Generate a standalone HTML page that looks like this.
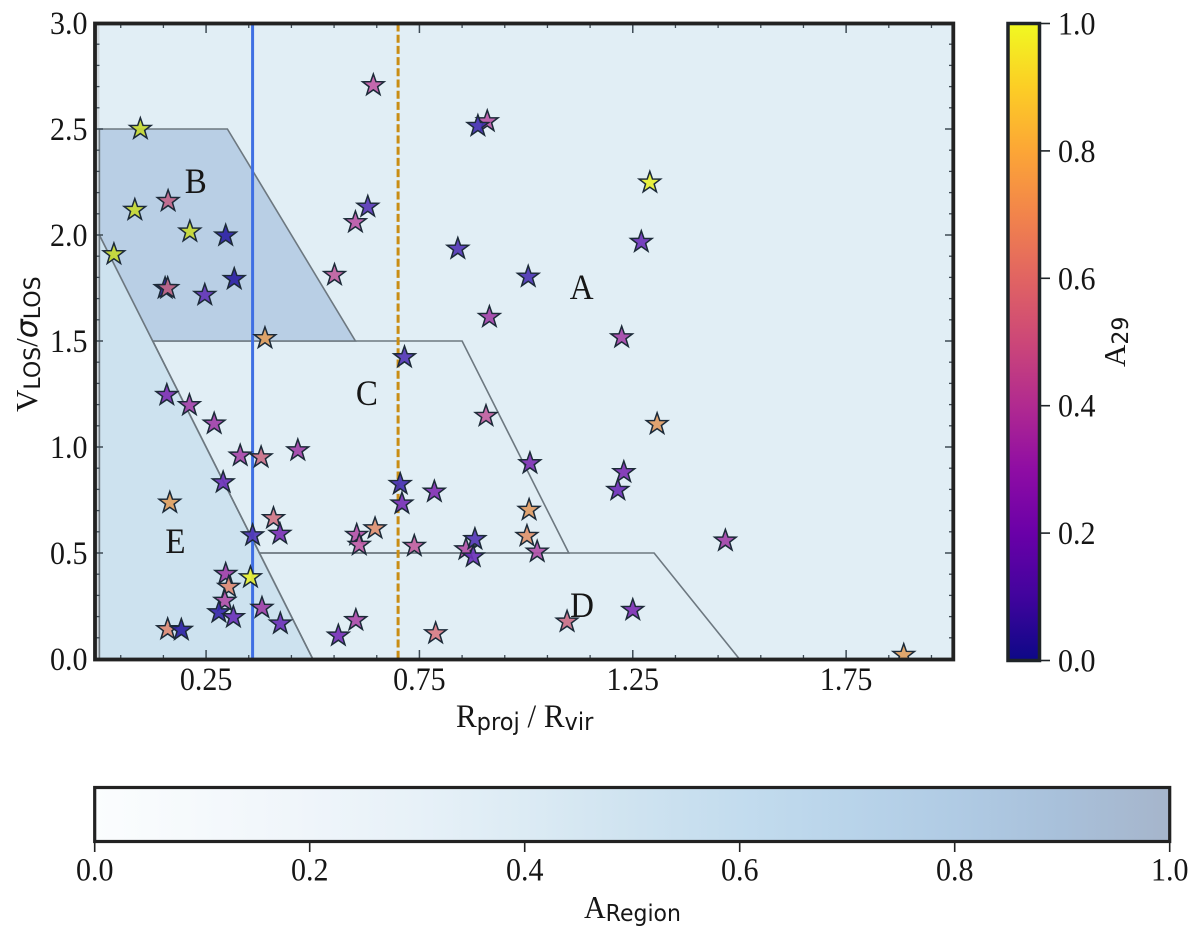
<!DOCTYPE html>
<html lang="en">
<head>
<meta charset="utf-8">
<title>Phase-space diagram</title>
<style>
html,body{margin:0;padding:0;background:#fff;width:1200px;height:940px;overflow:hidden}
svg{display:block}
text{font-family:"Liberation Serif",serif;fill:#161616}
.sub{font-family:"DejaVu Sans",sans-serif}
</style>
</head>
<body>
<svg id="fig" xmlns="http://www.w3.org/2000/svg" width="1200" height="940" viewBox="0 0 1200 940">
  <defs>
    <clipPath id="plot-clip"><rect x="95" y="23.5" width="858" height="636"/></clipPath>
    <linearGradient id="plasma-gradient" x1="0" y1="1" x2="0" y2="0"></linearGradient>
    <linearGradient id="region-gradient" x1="0" y1="0" x2="1" y2="0"></linearGradient>
  </defs>
  <g id="plot">
    <rect x="95" y="23.5" width="6" height="636" fill="#cfd7dc"/>
    <g id="regions" clip-path="url(#plot-clip)"></g>
    <g id="vlines" clip-path="url(#plot-clip)"></g>
    <g id="region-labels"></g>
    <g id="stars" clip-path="url(#plot-clip)"></g>
    <g id="ticks"></g>
    <rect x="95" y="23.5" width="858.3" height="636" fill="none" stroke="#222" stroke-width="3.8"/>
    <g id="tick-labels" font-size="30"></g>
    <text transform="translate(456,727) scale(1,1.06)" font-size="31">R<tspan class="sub" font-size="22.5" dy="3">proj</tspan><tspan dy="-3"> / R</tspan><tspan class="sub" font-size="22.5" dy="3">vir</tspan></text>
    <text transform="translate(37,412) rotate(-90)" font-size="31">V<tspan class="sub" font-size="22" dy="3">LOS</tspan><tspan dy="-3">/</tspan><tspan class="sub" font-style="italic" font-size="30">σ</tspan><tspan class="sub" font-size="22" dy="3">LOS</tspan></text>
  </g>
  <g id="cbar-v">
    <rect x="1008" y="23.5" width="31.5" height="637" fill="url(#plasma-gradient)" stroke="#1f2428" stroke-width="3.5"/>
    <g id="cbar-v-ticks" font-size="30"></g>
    <text transform="translate(1125,367) rotate(-90)" font-size="31">A<tspan class="sub" font-size="22" dy="3">29</tspan></text>
  </g>
  <g id="cbar-h">
    <rect x="94.7" y="787.5" width="1075" height="54" fill="url(#region-gradient)" stroke="#222" stroke-width="3.2"/>
    <g id="cbar-h-ticks" font-size="30"></g>
    <text transform="translate(584,918) scale(1,1.06)" font-size="30">A<tspan class="sub" font-size="22" dy="3">Region</tspan></text>
  </g>
</svg>
<script>
// Chart data
var starX = [0.096,0.642,0.083,0.161,0.212,0.296,0.034,0.316,0.247,0.154,0.160,0.388,0.551,0.600,0.629,0.715,0.158,0.211,0.269,0.330,0.379,0.465,0.290,0.165,0.705,0.709,0.408,0.646,0.423,0.359,0.603,0.609,0.738,0.296,0.354,0.303,0.294,0.381,0.280,0.314,0.424,0.601,0.560,0.160,0.192,1.009,1.229,1.215,0.785,1.007,1.002,0.859,0.880,0.876,1.026,1.250,1.096,0.788,0.909,0.887,1.290,1.270,0.840,1.005,0.914,1.224,1.307,0.906,1.467,1.885];
var starY = [2.50,2.706,2.118,2.160,2.016,1.997,1.909,1.792,1.717,1.749,1.749,1.513,1.811,2.060,2.133,1.423,1.245,1.197,1.110,0.959,0.951,0.984,0.833,0.737,0.825,0.733,0.664,0.616,0.590,0.583,0.585,0.538,0.533,0.401,0.385,0.340,0.274,0.241,0.220,0.197,0.167,0.183,0.110,0.140,0.137,0.923,0.881,0.797,0.789,0.703,0.580,0.517,0.565,0.483,0.506,0.231,0.176,0.121,2.536,2.514,2.247,1.967,1.935,1.803,1.613,1.517,1.108,1.146,0.558,0.019];
var starA29 = [0.92,0.48,0.92,0.55,0.92,0.08,0.92,0.07,0.20,0.08,0.56,0.78,0.50,0.46,0.18,0.16,0.27,0.36,0.35,0.38,0.58,0.36,0.22,0.78,0.12,0.25,0.60,0.70,0.26,0.15,0.43,0.48,0.50,0.35,1.00,0.68,0.42,0.35,0.10,0.22,0.22,0.40,0.25,0.68,0.08,0.27,0.27,0.23,0.28,0.76,0.72,0.43,0.16,0.22,0.42,0.27,0.58,0.62,0.46,0.12,1.00,0.22,0.16,0.14,0.36,0.37,0.76,0.50,0.36,0.78];
var starColorValues = [0,0.08,0.13,0.18,0.23,0.28,0.35,0.42,0.48,0.55,0.62,0.70,0.78,0.92,1];
var starColorNames = ["#22189a","#2c22a4","#4a34b4","#5a38b6","#7030b8","#8230b2","#a040a8","#b050a8","#c05ca6","#c0668a","#d87c84","#e09070","#e0a060","#c7d932","#e8f030"];
var regionLetters = ["A","B","C","D","E"];
var regionLetterX = [1.130,0.226,0.627,1.131,0.178];
var regionLetterY = [1.698,2.198,1.198,0.198,0.50];
var regionB = [[0,2.5],[0.3,2.5],[0.6,1.5],[0.125,1.5],[0,2]];
var regionC = [[0.125,1.5],[0.85,1.5],[1.1,0.5],[0.375,0.5]];
var regionD = [[0.375,0.5],[1.3,0.5],[1.5,0],[0.5,0]];
var regionE = [[0,2],[0.5,0],[0,0]];
var blueLineX = 0.359;
var orangeLineX = 0.70;
var xMajorTicks = [0.25,0.75,1.25,1.75];
var xMajorLabels = ["0.25","0.75","1.25","1.75"];
var xMinorTicks = [0.05,0.15,0.35,0.45,0.55,0.65,0.85,0.95,1.05,1.15,1.35,1.45,1.55,1.65,1.85,1.95];
var yMajorTicks = [0,0.5,1,1.5,2,2.5,3];
var yMajorLabels = ["0.0","0.5","1.0","1.5","2.0","2.5","3.0"];
var yMinorTicks = [0.1,0.2,0.3,0.4,0.6,0.7,0.8,0.9,1.1,1.2,1.3,1.4,1.6,1.7,1.8,1.9,2.1,2.2,2.3,2.4,2.6,2.7,2.8,2.9];
var a29Ticks = [0,0.2,0.4,0.6,0.8,1];
var a29Labels = ["0.0","0.2","0.4","0.6","0.8","1.0"];
var regionTicks = [0,0.2,0.4,0.6,0.8,1];
var regionTickLabels = ["0.0","0.2","0.4","0.6","0.8","1.0"];
var plasmaColors = ["#0d0887","#41049d","#6a00a8","#8f0da4","#b12a90","#cc4778","#e16462","#f2844b","#fca636","#fcce25","#f0f921"];
var regionBarColors = ["#fbfdfe","#f5f9fc","#eff5fa","#e7f1f8","#dcebf4","#cfe3f0","#c3dcee","#b9d4ea","#b0cbe4","#a8c0da","#a6b5cb"];

var NS = "http://www.w3.org/2000/svg";
function X(v){ return 99.4 + v * 426.7; }
function Y(v){ return 659 - v * 212; }
function CV(v){ return 660.5 - v * 637; }
function CH(v){ return 94.7 + v * 1075; }
function node(tag, parent, attrs){
  var el = document.createElementNS(NS, tag);
  for (var k in attrs) { el.setAttribute(k, attrs[k]); }
  parent.appendChild(el);
  return el;
}
function place(x, y){ return "translate(" + x.toFixed(1) + "," + y.toFixed(1) + ") scale(1,1.08)"; }
function hex(c){ return [parseInt(c.slice(1,3),16),parseInt(c.slice(3,5),16),parseInt(c.slice(5,7),16)]; }
function starColor(c){
  var i = 0;
  while (i < starColorValues.length - 2 && c > starColorValues[i+1]) { i++; }
  var t = (c - starColorValues[i]) / (starColorValues[i+1] - starColorValues[i]);
  t = Math.max(0, Math.min(1, t));
  var a = hex(starColorNames[i]), b = hex(starColorNames[i+1]);
  return "rgb(" + Math.round(a[0]+(b[0]-a[0])*t) + "," + Math.round(a[1]+(b[1]-a[1])*t) + "," + Math.round(a[2]+(b[2]-a[2])*t) + ")";
}
function polyPoints(list){
  return list.map(function(p){ return X(p[0]).toFixed(1) + "," + Y(p[1]).toFixed(1); }).join(" ");
}
function starPath(cx, cy, R){
  var r = R * 0.40, pts = [];
  for (var i = 0; i < 10; i++) {
    var ang = -Math.PI / 2 + i * Math.PI / 5;
    var rad = i % 2 === 0 ? R : r;
    pts.push((cx + rad * Math.cos(ang)).toFixed(2) + "," + (cy + rad * Math.sin(ang)).toFixed(2));
  }
  return pts.join(" ");
}

// gradients
var gPlasma = document.getElementById("plasma-gradient");
plasmaColors.forEach(function(col, i){
  node("stop", gPlasma, {offset: i / (plasmaColors.length - 1), "stop-color": col});
});
var gRegion = document.getElementById("region-gradient");
regionBarColors.forEach(function(col, i){
  node("stop", gRegion, {offset: i / (regionBarColors.length - 1), "stop-color": col});
});

// regions
var regG = document.getElementById("regions");
var bg = node("rect", regG, {x: X(0), y: 23.5, width: 855, height: 636, fill: "#e1eef5"});


var pE = node("polygon", regG, {points: polyPoints(regionE), fill: "#cde2ef", stroke: "#6d7880", "stroke-width": 1.6});


var pD = node("polygon", regG, {points: polyPoints(regionD), fill: "none", stroke: "#6d7880", "stroke-width": 1.6});


var pC = node("polygon", regG, {points: polyPoints(regionC), fill: "none", stroke: "#6d7880", "stroke-width": 1.6});


var pB = node("polygon", regG, {points: polyPoints(regionB), fill: "#b9cfe5", stroke: "#6d7880", "stroke-width": 1.6});



// reference lines
var vG = document.getElementById("vlines");
var blue = node("line", vG, {x1: X(blueLineX), x2: X(blueLineX), y1: 23.5, y2: 659.5, stroke: "#3f6fe3", "stroke-width": 3});


var orange = node("line", vG, {x1: X(orangeLineX), x2: X(orangeLineX), y1: 23.5, y2: 659.5, stroke: "#c98d14", "stroke-width": 3, "stroke-dasharray": "8 3.2"});



// region letters
var lG = document.getElementById("region-labels");
regionLetters.forEach(function(letter, i){
  var t = node("text", lG, {transform: place(X(regionLetterX[i]), Y(regionLetterY[i])), "font-size": 33, "text-anchor": "middle"});
  t.textContent = letter;
  
  
});

// stars
var sG = document.getElementById("stars");
starX.forEach(function(v, i){
  var s = node("polygon", sG, {
    points: starPath(X(v), Y(starY[i]), 11.3),
    fill: starColor(starA29[i]),
    "fill-opacity": 0.92,
    stroke: "#1c2a38",
    "stroke-width": 1.5,
    "stroke-linejoin": "miter"
  });
  
  
});

// axis ticks
var tG = document.getElementById("ticks");
var tickColor = "#3d4a54";
xMajorTicks.forEach(function(v){
  var a = node("line", tG, {x1: X(v), x2: X(v), y1: 660, y2: 650, stroke: tickColor, "stroke-width": 1.5});
  
  
  var b = node("line", tG, {x1: X(v), x2: X(v), y1: 23, y2: 33, stroke: tickColor, "stroke-width": 1.5});
  
  
});
xMinorTicks.forEach(function(v){
  var a = node("line", tG, {x1: X(v), x2: X(v), y1: 660, y2: 655, stroke: tickColor, "stroke-width": 1.3});
  
  
  var b = node("line", tG, {x1: X(v), x2: X(v), y1: 23, y2: 28, stroke: tickColor, "stroke-width": 1.3});
  
  
});
yMajorTicks.forEach(function(v){
  var a = node("line", tG, {x1: 95, x2: 103, y1: Y(v), y2: Y(v), stroke: tickColor, "stroke-width": 1.5});
  
  
  var b = node("line", tG, {x1: 953, x2: 945, y1: Y(v), y2: Y(v), stroke: tickColor, "stroke-width": 1.5});
  
  
});
yMinorTicks.forEach(function(v){
  var a = node("line", tG, {x1: 95, x2: 99.5, y1: Y(v), y2: Y(v), stroke: tickColor, "stroke-width": 1.3});
  
  
  var b = node("line", tG, {x1: 953, x2: 949, y1: Y(v), y2: Y(v), stroke: tickColor, "stroke-width": 1.3});
  
  
});

// tick labels
var lbG = document.getElementById("tick-labels");
xMajorTicks.forEach(function(v, i){
  var t = node("text", lbG, {transform: place(X(v), 690), "text-anchor": "middle"});
  t.textContent = xMajorLabels[i];
  
  
});
yMajorTicks.forEach(function(v, i){
  var t = node("text", lbG, {transform: place(87.5, Y(v) + 11), "text-anchor": "end"});
  t.textContent = yMajorLabels[i];
  
  
});

// vertical colorbar ticks
var cvG = document.getElementById("cbar-v-ticks");
a29Ticks.forEach(function(v, i){
  var l = node("line", cvG, {x1: 1040, x2: 1050, y1: CV(v), y2: CV(v), stroke: "#1f2428", "stroke-width": 1.6});
  
  
  var t = node("text", cvG, {transform: place(1058, CV(v) + 11)});
  t.textContent = a29Labels[i];
  
  
});

// horizontal colorbar ticks
var chG = document.getElementById("cbar-h-ticks");
regionTicks.forEach(function(v, i){
  var l = node("line", chG, {x1: CH(v), x2: CH(v), y1: 842, y2: 852, stroke: "#222", "stroke-width": 1.6});
  
  
  var t = node("text", chG, {transform: place(CH(v), 880.5), "text-anchor": "middle"});
  t.textContent = regionTickLabels[i];
  
  
});
</script>
</body>
</html>
